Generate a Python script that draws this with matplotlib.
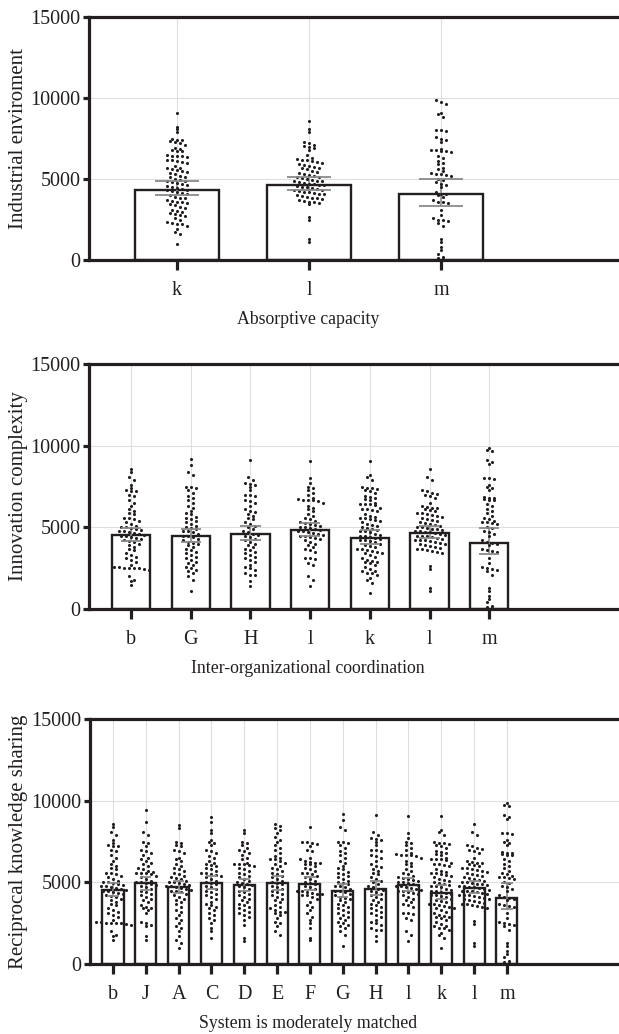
import matplotlib.pyplot as plt
import numpy as np

# Scores per group (one list per category letter)
b = [8550, 8400, 8100, 7900, 7600, 7400, 7300, 7250, 7200, 7000, 6900, 6700, 6500, 6300, 6100,
     6000, 5850, 5800, 5600, 5550, 5500, 5400, 5300, 5200, 5100, 5050, 5000, 4950, 4900, 4850,
     4800, 4750, 4700, 4650, 4600, 4550, 4500, 4450, 4400, 4350, 4300, 4200, 4150, 4100, 4000,
     3900, 3800, 3700, 3600, 3400, 3300, 3200, 3100, 3000, 2900, 2700, 2600, 2550, 2500, 2500,
     2500, 2500, 2450, 2400, 2000, 1800, 1700, 1500]
J = [9400, 8700, 8100, 7900, 7500, 7400, 7200, 7000, 6900, 6800, 6700, 6500, 6400, 6300, 6200,
     6100, 6000, 5900, 5800, 5700, 5650, 5600, 5600, 5550, 5500, 5400, 5300, 5200, 5100, 5050,
     5000, 4950, 4900, 4850, 4800, 4700, 4600, 4500, 4400, 4300, 4200, 4100, 4000, 3900, 3800,
     3600, 3500, 3450, 3400, 3300, 3100, 2600, 2500, 2400, 2300, 1700, 1450]
A = [8500, 8300, 7500, 7400, 7300, 7200, 7000, 6900, 6800, 6500, 6400, 6300, 6100, 6000, 5900,
     5800, 5700, 5600, 5500, 5400, 5300, 5250, 5200, 5100, 5050, 5000, 4950, 4900, 4850, 4800,
     4750, 4700, 4650, 4600, 4550, 4500, 4450, 4400, 4300, 4200, 4100, 4000, 3900, 3800, 3700,
     3500, 3300, 3200, 3000, 2800, 2700, 2500, 2300, 2200, 2000, 1700, 1500, 1300, 1000]
C = [9000, 8700, 8200, 8000, 7600, 7500, 7400, 7300, 7000, 6900, 6800, 6600, 6500, 6300, 6200,
     6100, 6050, 6000, 5900, 5800, 5700, 5600, 5550, 5500, 5450, 5400, 5300, 5200, 5100, 5000,
     4950, 4900, 4800, 4700, 4600, 4500, 4400, 4300, 4200, 4100, 4000, 3800, 3700, 3600, 3500,
     3400, 3300, 3100, 3000, 2800, 2700, 2500, 2200, 2000, 1600]
D = [8200, 8000, 7500, 7400, 7300, 7100, 7000, 6900, 6800, 6700, 6500, 6400, 6200, 6150, 6100,
     6100, 6050, 6000, 5900, 5800, 5700, 5600, 5500, 5400, 5300, 5200, 5100, 5000, 4950, 4900,
     4850, 4800, 4700, 4600, 4500, 4400, 4300, 4200, 4100, 4000, 3900, 3800, 3700, 3600, 3500,
     3400, 3300, 3200, 3100, 3000, 2900, 2700, 2400, 1600, 1400]
E = [8600, 8450, 8300, 8200, 8000, 7800, 7600, 7500, 7300, 7100, 7000, 6800, 6600, 6500, 6450,
     6400, 6300, 6200, 6100, 6000, 5900, 5800, 5700, 5600, 5500, 5400, 5300, 5200, 5100, 5000,
     4950, 4900, 4800, 4700, 4600, 4500, 4400, 4300, 4200, 4100, 4000, 3900, 3800, 3600, 3500,
     3400, 3300, 3200, 3200, 3150, 3000, 2800, 2600, 2500, 2300, 2000, 1800]
F = [8400, 7500, 7450, 7400, 7350, 7200, 7000, 6900, 6500, 6400, 6300, 6250, 6200, 6200, 6150,
     6100, 6000, 5900, 5800, 5700, 5600, 5550, 5500, 5400, 5300, 5200, 5100, 5000, 4950, 4900,
     4800, 4700, 4600, 4500, 4450, 4400, 4350, 4300, 4300, 4250, 4200, 4100, 4000, 3800, 3600,
     3500, 3300, 3100, 2900, 2700, 2500, 2200, 1600, 1500]
G = [9200, 8800, 8400, 8200, 7500, 7450, 7400, 7300, 7100, 6900, 6800, 6700, 6500, 6300, 6200,
     6000, 5900, 5800, 5650, 5600, 5500, 5400, 5300, 5200, 5100, 5000, 4950, 4900, 4800, 4750,
     4700, 4600, 4500, 4450, 4400, 4300, 4200, 4100, 4050, 4000, 3900, 3800, 3700, 3600, 3500,
     3400, 3300, 3200, 3100, 3000, 2900, 2800, 2700, 2600, 2500, 2400, 2300, 2200, 2000, 1800,
     1100]
H = [9100, 8100, 7900, 7700, 7650, 7600, 7500, 7300, 7000, 6950, 6900, 6700, 6600, 6500, 6300,
     6100, 6000, 5950, 5800, 5700, 5600, 5500, 5300, 5200, 5100, 5000, 4900, 4800, 4700, 4600,
     4550, 4500, 4400, 4300, 4200, 4100, 4000, 3900, 3800, 3700, 3600, 3500, 3400, 3300, 3200,
     3100, 3000, 2900, 2700, 2600, 2500, 2400, 2200, 2100, 2100, 1700, 1400]
l1 = [9050, 8050, 7700, 7500, 7400, 7300, 7100, 7000, 6800, 6750, 6700, 6700, 6650, 6600, 6500,
      6300, 6200, 6100, 6000, 5800, 5700, 5600, 5500, 5400, 5300, 5250, 5200, 5150, 5100, 5050,
      5000, 4950, 4900, 4850, 4800, 4750, 4700, 4650, 4600, 4550, 4500, 4450, 4400, 4350, 4300,
      4200, 4100, 4000, 3900, 3800, 3700, 3600, 3500, 3100, 3100, 3050, 2800, 2700, 2000, 1800,
      1400]
k = [9050, 8200, 8100, 7900, 7500, 7400, 7400, 7350, 7300, 7200, 7100, 6900, 6850, 6800, 6750,
     6700, 6500, 6450, 6400, 6400, 6350, 6200, 6150, 6100, 6050, 6000, 5800, 5700, 5650, 5600,
     5550, 5500, 5450, 5400, 5300, 5200, 5150, 5100, 5000, 4950, 4900, 4850, 4800, 4750, 4700,
     4600, 4550, 4500, 4450, 4400, 4350, 4300, 4250, 4200, 4150, 4100, 4000, 3900, 3850, 3800,
     3700, 3650, 3600, 3550, 3500, 3450, 3400, 3300, 3200, 3100, 3000, 2950, 2900, 2850, 2800,
     2700, 2600, 2450, 2350, 2300, 2200, 2200, 2100, 1900, 1750, 1600, 1000]
l = [8600, 8100, 7900, 7300, 7250, 7100, 7050, 7000, 6900, 6800, 6500, 6300, 6250, 6200, 6200,
     6100, 6050, 6000, 5900, 5850, 5800, 5750, 5700, 5650, 5600, 5500, 5450, 5400, 5300, 5250,
     5200, 5150, 5100, 5050, 5000, 4950, 4900, 4900, 4850, 4800, 4750, 4700, 4700, 4650, 4600,
     4550, 4500, 4500, 4450, 4400, 4350, 4300, 4250, 4200, 4200, 4150, 4100, 4050, 4000, 3950,
     3900, 3850, 3800, 3750, 3700, 3650, 3600, 3550, 3500, 3450, 2650, 2450, 1300, 1100]
m = [9850, 9750, 9650, 9100, 9000, 8850, 8000, 8000, 7950, 7600, 7500, 7400, 7300, 6850, 6800,
     6800, 6750, 6700, 6650, 6400, 6300, 6100, 6000, 5900, 5700, 5600, 5500, 5400, 5300, 5300,
     5250, 5200, 5000, 4950, 4800, 4700, 4600, 4500, 4200, 4100, 4050, 4000, 3900, 3700, 3600,
     3550, 3500, 3100, 2800, 2600, 2500, 2450, 2400, 2300, 2100, 1300, 1100, 800, 600, 400,
     200, 100, 50]

# Bar heights and interval ends for each group
group_keys = ['b', 'J', 'A', 'C', 'D', 'E', 'F', 'G', 'H', 'l1', 'k', 'l', 'm']
group_labels = ['b', 'J', 'A', 'C', 'D', 'E', 'F', 'G', 'H', 'l', 'k', 'l', 'm']
bar_means = [4520, 4940, 4735, 4980, 4815, 4980, 4920, 4490, 4590, 4850, 4340, 4650, 4050]
err_low = [4150, 4550, 4350, 4600, 4450, 4550, 4550, 4100, 4250, 4490, 4000, 4320, 3340]
err_high = [4960, 5350, 5100, 5380, 5200, 5400, 5300, 4900, 5060, 5250, 4850, 5100, 4970]

values = dict(zip(group_keys, [b, J, A, C, D, E, F, G, H, l1, k, l, m]))
label_of = dict(zip(group_keys, group_labels))
mean_of = dict(zip(group_keys, bar_means))
low_of = dict(zip(group_keys, err_low))
high_of = dict(zip(group_keys, err_high))

panel1_keys = ['k', 'l', 'm']
panel2_keys = ['b', 'G', 'H', 'l1', 'k', 'l', 'm']
panel3_keys = group_keys

INK = '#231f20'
plt.rcParams['font.family'] = ['Liberation Serif', 'DejaVu Serif']
plt.rcParams['text.color'] = INK
plt.rcParams['axes.labelcolor'] = INK
plt.rcParams['xtick.color'] = INK
plt.rcParams['ytick.color'] = INK

W, H_px = 619, 1034
fig = plt.figure(figsize=(W / 100, H_px / 100), dpi=100)


def dot_offsets(vals, row_height, dx):
    # values falling in the same row are spread sideways, centred on the category
    vals = np.asarray(vals, dtype=float)
    rows = np.round(vals / row_height).astype(int)
    offs = np.zeros(len(vals))
    for r in np.unique(rows):
        idx = np.where(rows == r)[0]
        n = len(idx)
        offs[idx] = (np.arange(n) - (n - 1) / 2) * dx
    return offs


# (keys, y label, x label, left px, top px, bottom px, first tick px, tick spacing px)
panels = [
    (panel1_keys, 'Industrial enviroment', 'Absorptive capacity', 89, 17, 260, 177, 132.0),
    (panel2_keys, 'Innovation complexity', 'Inter-organizational coordination', 89, 364, 609, 131, 59.7),
    (panel3_keys, 'Reciprocal knowledge sharing', 'System is moderately matched', 90, 719, 964, 113, 32.83),
]

for keys, ylab, xlab, left, top, bottom, first, step in panels:
    ax = fig.add_axes([left / W, 1 - bottom / H_px, (W - left) / W, (bottom - top) / H_px])
    n = len(keys)
    pos = np.arange(n)
    px_per_val = (bottom - top) / 15000

    ax.bar(pos, [mean_of[g] for g in keys], width=0.64, facecolor='white',
           edgecolor=INK, linewidth=1.7, zorder=1)

    lo = [low_of[g] for g in keys]
    hi = [high_of[g] for g in keys]
    ax.vlines(pos, lo, hi, color='#8c8c8c', linewidth=1.2, zorder=2)

    for p, g in zip(pos, keys):
        v = values[g]
        off = dot_offsets(v, 4.5 / px_per_val, 5.0) / step
        ax.scatter(p + off, v, s=5, color=INK, linewidths=0, zorder=3)

    ax.hlines(lo, pos - 0.17, pos + 0.17, color='#8a8a8a', linewidth=1.3, zorder=4)
    ax.hlines(hi, pos - 0.17, pos + 0.17, color='#8a8a8a', linewidth=1.3, zorder=4)

    x0 = -(first - left) / step
    ax.set_xlim(x0, x0 + (W - left) / step)
    ax.set_ylim(0, 15000)
    ax.set_yticks([0, 5000, 10000, 15000])
    ax.set_xticks(pos)
    ax.set_xticklabels([label_of[g] for g in keys])

    ax.grid(True, color='#dedede', linewidth=0.8)
    ax.set_axisbelow(True)
    for side in ['left', 'top', 'bottom']:
        ax.spines[side].set_linewidth(2.3)
        ax.spines[side].set_color(INK)
    ax.spines['right'].set_visible(False)

    ax.tick_params(axis='y', direction='out', length=4.5, width=2.3, pad=1.5, labelsize=14.5)
    ax.tick_params(axis='x', direction='out', length=7, width=2.3, pad=8, labelsize=14.5)

    ax.set_ylabel(ylab, fontsize=15)
    ax.set_xlabel(xlab, fontsize=12.8)
    ax.yaxis.set_label_coords(-(left - 28) / (W - left), 0.5)
    ax.xaxis.set_label_coords((308 - left) / (W - left), -51 / (bottom - top))

fig.savefig('out.png', dpi=100)
